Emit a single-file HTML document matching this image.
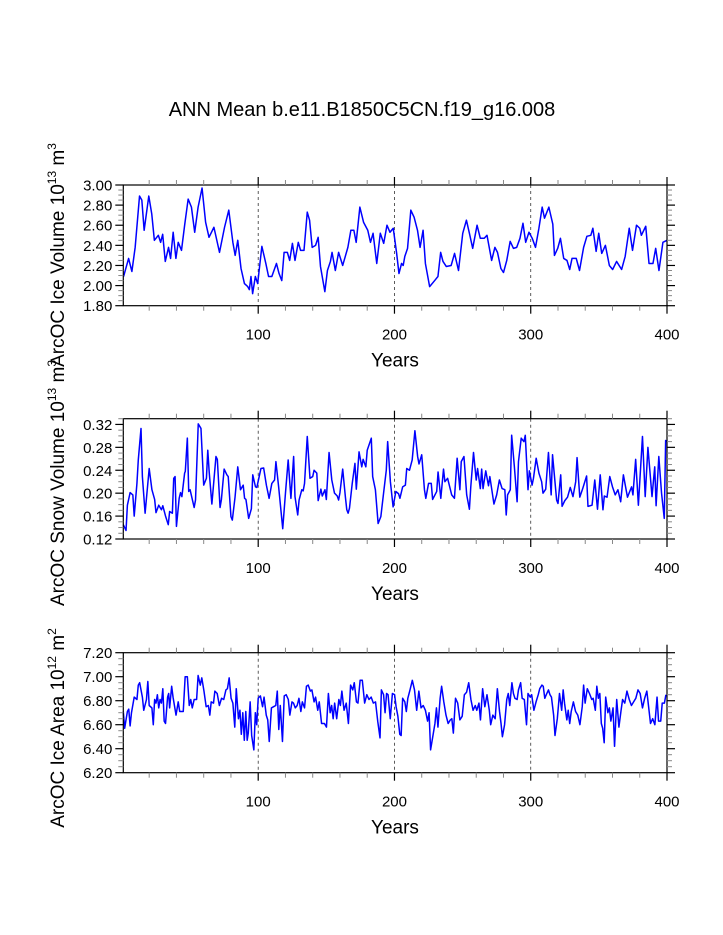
<!DOCTYPE html>
<html><head><meta charset="utf-8"><style>
html,body{margin:0;padding:0;background:#fff;}
svg{display:block;font-family:"Liberation Sans",Arial,sans-serif;}
</style></head><body>
<svg id="chart" width="723" height="935" viewBox="0 0 723 935" xmlns="http://www.w3.org/2000/svg">
<rect x="0" y="0" width="723" height="935" fill="#fff"/>
<text x="362" y="116" font-size="20" text-anchor="middle">ANN Mean b.e11.B1850C5CN.f19_g16.008</text>
</svg>
<script>
// ---------- data ----------
const p1Years=[1.2,4.9,7.3,9.7,12.9,14.6,16.3,19.7,21.9,23.8,26.7,28.4,29.9,31.8,34.2,35.7,37.6,39.6,41.3,43.7,46.1,48.6,51,53.4,55.9,58.8,61.4,63.9,67.5,71.6,75.3,78.4,81.4,83.1,85,87.4,89.9,92.3,93.5,94.7,95.9,97.9,99.6,102.7,105.6,107.6,110,113.4,115.3,117.3,119,121.4,123.1,125.1,127,129.4,131.1,133.6,136,137.7,139.6,142.1,144,145.7,148.9,150.8,153,154.2,156.6,159,162,163.9,165.8,168,170.2,171.9,174.6,177.3,180.4,182.4,184.3,187,189.6,192.1,194.5,196.7,199.1,201.6,203.3,205.2,206.4,207.6,209.6,212,214.4,216.9,218.8,221,222.7,225.8,229.5,231.9,233.9,235.6,238,241.6,244.1,247,250.1,252.8,255,257.4,260.6,263,265.9,267.9,271.3,273.7,275.6,278.1,280,282.4,284.9,287.3,289.7,292.1,294.3,296.3,298.7,301.1,303.5,306,308.4,310.1,313.3,316.2,317.4,319.8,321.8,324.2,326.6,328.6,330.3,333.4,335.8,338.8,341.2,344.1,345.6,348,349.9,352.1,354.8,357.7,360.1,363,366.7,369.3,372.3,374.7,377.6,380,381.2,384.4,386.8,389.7,391.7,394.1,397,400];
const p1Vals=[2.09,2.27,2.14,2.38,2.89,2.85,2.55,2.89,2.71,2.45,2.50,2.43,2.51,2.24,2.38,2.27,2.53,2.27,2.43,2.35,2.61,2.86,2.78,2.53,2.78,2.97,2.63,2.48,2.58,2.33,2.58,2.75,2.43,2.30,2.45,2.17,2.02,1.99,1.96,2.09,1.92,2.09,2.02,2.39,2.22,2.09,2.09,2.22,2.12,2.05,2.33,2.33,2.25,2.42,2.25,2.43,2.35,2.35,2.73,2.65,2.38,2.40,2.48,2.19,1.94,2.15,2.24,2.33,2.15,2.33,2.20,2.29,2.38,2.55,2.55,2.43,2.78,2.63,2.55,2.43,2.52,2.22,2.52,2.42,2.60,2.53,2.57,2.32,2.12,2.22,2.20,2.29,2.37,2.75,2.68,2.55,2.38,2.55,2.22,1.99,2.05,2.09,2.33,2.24,2.19,2.20,2.32,2.15,2.52,2.65,2.52,2.37,2.60,2.47,2.47,2.50,2.25,2.38,2.33,2.17,2.13,2.25,2.44,2.37,2.38,2.47,2.62,2.43,2.53,2.47,2.38,2.57,2.78,2.67,2.78,2.61,2.30,2.37,2.47,2.27,2.25,2.16,2.27,2.27,2.15,2.38,2.49,2.50,2.57,2.34,2.52,2.32,2.40,2.20,2.16,2.24,2.16,2.29,2.57,2.35,2.60,2.57,2.50,2.59,2.22,2.22,2.37,2.15,2.43,2.45];

const p2Years=[1,3,4,6,8,9,11,12,14,15,17,20,22,24,25,27,29,30,32,34,35,37,38,39,40,42,43,44,46,46.5,48,49,50,53,54,56,58,60,62,63,64,66,69,70,72,73,75,77,78,80,81,83,85,87,89,90,91,93,95,96,98,99,102,104,106,108,110,112,113,115,118,120,122,124,126,127,129,130,132,133,134,136,138,140,141,143,144,146,147,149,150,152,154,156,158,159,160,162,164,165,166,167,169,171,172,174,176,177,179,180,183,184,186,188,190,192,194,195,197,199,201,203,204,206,208,209,211,213,215,217,218,220,222,223,225,227,228,231,232,234,236,237,239,242,244,246,248,249,251,253,255,256,258,260,261,263,264,265,267,269,270,273,275,277,279,281,282,283,285,286,288,290,291,293,295,296,298,299,301,302,304,306,308,309,311,313,315,316,319,320,322,323,325,327,329,331,333,334,336,338,341,342,345,347,349,351,353,354,356,358,360,362,364,366,368,371,374,375,377,379,382,384,386,389,391,392,394,396,398,399,400];
const p2Vals=[0.145,0.135,0.179,0.201,0.197,0.160,0.217,0.258,0.313,0.229,0.165,0.243,0.206,0.189,0.166,0.179,0.171,0.178,0.160,0.145,0.168,0.165,0.226,0.229,0.142,0.191,0.201,0.194,0.235,0.238,0.296,0.203,0.206,0.175,0.188,0.321,0.313,0.214,0.226,0.275,0.238,0.181,0.264,0.259,0.175,0.189,0.242,0.232,0.229,0.159,0.153,0.193,0.246,0.206,0.214,0.191,0.189,0.156,0.173,0.232,0.211,0.210,0.243,0.244,0.214,0.191,0.217,0.223,0.255,0.211,0.138,0.200,0.258,0.191,0.264,0.194,0.162,0.188,0.206,0.204,0.217,0.299,0.226,0.229,0.240,0.235,0.187,0.207,0.195,0.206,0.189,0.271,0.223,0.200,0.195,0.188,0.201,0.242,0.193,0.171,0.165,0.174,0.217,0.252,0.207,0.272,0.246,0.259,0.246,0.275,0.296,0.229,0.206,0.147,0.159,0.200,0.240,0.290,0.220,0.176,0.203,0.199,0.191,0.211,0.214,0.243,0.240,0.258,0.309,0.264,0.251,0.267,0.206,0.191,0.217,0.217,0.189,0.203,0.237,0.191,0.242,0.220,0.226,0.197,0.191,0.261,0.206,0.255,0.264,0.197,0.172,0.211,0.271,0.223,0.243,0.208,0.242,0.208,0.239,0.213,0.229,0.181,0.197,0.223,0.208,0.206,0.162,0.197,0.206,0.301,0.246,0.185,0.255,0.296,0.290,0.301,0.206,0.239,0.214,0.226,0.261,0.235,0.220,0.200,0.207,0.271,0.197,0.267,0.188,0.182,0.232,0.177,0.187,0.193,0.210,0.194,0.220,0.262,0.193,0.207,0.230,0.177,0.179,0.223,0.172,0.232,0.171,0.195,0.193,0.229,0.211,0.197,0.206,0.185,0.232,0.193,0.211,0.197,0.259,0.179,0.299,0.194,0.280,0.194,0.246,0.178,0.264,0.200,0.156,0.292,0.290];

const p3Years=[1,2,4,5,6,7,9,11,12,13,15,16,18,19,20,22,23,24,25,26,27,28,29,30,31,32,33.5,34.3,35,36.5,37.5,39.7,41.3,42.4,45,46.4,48,49.4,50.5,51.6,53,54.8,55.9,57.5,58.6,60.2,61.8,63.4,64.5,65.5,67.2,68.2,69.9,71.5,73.1,74.7,76.3,77.4,78.7,80.1,81.4,82.8,83.9,85.5,86.6,87.6,88.7,89.8,90.9,91.9,92.7,94.1,95.2,96.8,97.9,98.9,100,101.6,103.2,104.3,105.9,107,108.1,109.7,111.3,112.9,114,115.1,116.2,117.8,119.1,120.5,122.1,123.2,124.8,125.9,127.2,128.6,129.9,131.3,132.4,134,135.4,136.7,138.3,139.4,141,142.1,143.7,144.8,146.5,148.6,150.1,151.5,152.8,153.9,155,156.1,157.6,159.2,160.3,161.4,163,164.6,166.2,167.8,169.4,170.5,172.1,173.2,174.8,176.4,178.1,179.7,181.3,182.9,184.5,186.1,187.7,189.4,190.4,192,193.1,194.2,195.3,196.9,198.5,200.1,201.2,202.5,203.9,204.9,206,207.6,208.7,209.8,211.4,213.1,214.7,216.3,217.9,219.5,221.1,222.7,224.3,225.4,226.5,228.1,229.7,230.8,231.9,233.5,234.6,236.2,237.8,239.4,241,242.1,243.2,244.8,246.4,248,249.7,251.3,252.9,254.5,256.1,257.7,259.3,260.4,262,263.1,264.7,266.3,267.9,269.6,270.6,272.2,273.9,275.5,277.1,278.2,279.2,280.8,282.4,283.5,284.6,286.2,287.3,288.4,290,291,292.6,293.7,295.3,296.9,298,299.6,300.7,302.3,303.9,305.5,306.6,308.2,309.2,310.3,311.4,313,314.1,315.2,316.8,317.8,319.5,321.1,322.7,323.8,324.8,326.5,327.5,328.6,329.7,331.3,332.9,334.5,336.1,337.8,338.8,339.9,341.5,343.1,344.8,345.8,347.4,348.5,349.6,350.7,351.8,352.8,353.9,355,356.6,357.7,358.8,360.4,361.5,363.1,364.7,366.3,367.4,369,370.6,372.3,373.9,375.5,377.1,378.7,380.3,382,383.6,385.2,386.8,387.9,389.5,391.1,392.7,393.8,395.4,396.5,398.1,399.2];
const p3Vals=[6.71,6.57,6.71,6.73,6.59,6.70,6.83,6.81,6.93,6.95,6.83,6.72,6.81,6.96,6.76,6.74,6.60,6.81,6.78,6.85,6.74,6.81,6.78,6.90,6.63,6.61,6.83,6.86,6.74,6.92,6.83,6.68,6.79,6.71,6.71,7.00,7.00,6.76,6.81,6.74,6.81,6.81,7.01,6.93,6.99,6.88,6.75,6.76,6.68,6.79,6.78,6.88,6.86,6.76,6.82,6.81,6.89,6.90,6.99,6.82,6.78,6.58,6.90,6.65,6.72,6.52,6.70,6.47,6.71,6.47,6.53,6.79,6.51,6.39,6.70,6.60,6.82,6.84,6.75,6.83,6.68,6.64,6.46,6.74,6.75,6.76,6.88,6.56,6.76,6.46,6.84,6.85,6.81,6.68,6.79,6.78,6.74,6.76,6.82,6.71,6.79,6.74,6.92,6.93,6.88,6.89,6.79,6.83,6.72,6.79,6.61,6.61,6.58,6.86,6.70,6.76,6.65,6.78,6.65,6.81,6.76,6.88,6.72,6.78,6.61,6.93,6.89,6.95,6.79,6.78,6.97,6.97,6.78,6.85,6.81,6.83,6.78,6.79,6.63,6.49,6.89,6.85,6.70,6.86,6.85,6.65,6.86,6.85,6.75,6.67,6.52,6.51,6.82,6.79,6.71,6.82,6.89,6.97,6.89,6.72,6.88,6.74,6.76,6.72,6.63,6.70,6.39,6.50,6.61,6.74,6.58,6.82,6.92,6.79,6.68,6.61,6.64,6.65,6.53,6.82,6.78,6.64,6.67,6.85,6.87,6.95,6.81,6.72,6.76,6.72,6.78,6.64,6.90,6.75,6.85,6.72,6.60,6.68,6.65,6.90,6.71,6.61,6.50,6.60,6.81,6.86,6.76,6.95,6.86,6.82,6.81,6.89,6.95,6.82,6.81,6.60,6.86,6.83,6.85,6.72,6.79,6.85,6.90,6.93,6.92,6.82,6.85,6.89,6.85,6.83,6.68,6.51,6.65,6.86,6.72,6.89,6.78,6.64,6.72,6.61,6.71,6.79,6.71,6.68,6.60,6.75,6.93,6.78,6.90,6.86,6.81,6.82,6.72,6.92,6.82,6.86,6.61,6.57,6.45,6.83,6.70,6.74,6.63,6.74,6.42,6.81,6.58,6.72,6.81,6.78,6.88,6.81,6.76,6.79,6.82,6.89,6.86,6.74,6.82,6.88,6.72,6.61,6.65,6.60,6.83,6.63,6.63,6.78,6.78,6.85];

const xTickLabels=["100","200","300","400"];
const p1TickLabels=["3.00","2.80","2.60","2.40","2.20","2.00","1.80"];
const p2TickLabels=["0.32","0.28","0.24","0.20","0.16","0.12"];
const p3TickLabels=["7.20","7.00","6.80","6.60","6.40","6.20"];

// ---------- drawing ----------
const NS="http://www.w3.org/2000/svg";
const svg=document.getElementById('chart');
function mk(tag,attrs,parent){const e=document.createElementNS(NS,tag);for(const k in attrs)e.setAttribute(k,attrs[k]);(parent||svg).appendChild(e);return e;}

const X0=123.3,X1=667,XMIN=1,XMAX=400;
function xs(y){return X0+(y-XMIN)/(XMAX-XMIN)*(X1-X0);}

function panel(cfg){
  const g=mk('g',{});
  
  
  const top=cfg.top,bot=cfg.bot;
  const ys=v=>bot-(v-cfg.ymin)/(cfg.ymax-cfg.ymin)*(bot-top);
  [100,200,300].forEach(yr=>{
    const l=mk('line',{x1:xs(yr),x2:xs(yr),y1:top,y2:bot,stroke:'#333','stroke-width':0.8,'stroke-dasharray':'3,3'},g);
    
    
  });
  let d='';
  cfg.years.forEach((yr,i)=>{d+=(i?'L':'M')+xs(yr).toFixed(2)+','+ys(cfg.vals[i]).toFixed(2);});
  const p=mk('path',{d:d,fill:'none',stroke:'#0000ff','stroke-width':1.5,'stroke-linejoin':'round'},g);
  
  
  const b=mk('rect',{x:X0,y:top,width:X1-X0,height:bot-top,fill:'none',stroke:'#000','stroke-width':1.2},g);
  
  
  for(let yr=20;yr<=400;yr+=20){
    const maj=yr%100===0, L=maj?8:5;
    const x=xs(yr);
    mk('line',{x1:x,x2:x,y1:top,y2:top-L,stroke:maj?'#000':'#888','stroke-width':maj?1.2:1},g);
    mk('line',{x1:x,x2:x,y1:bot,y2:bot+L,stroke:maj?'#000':'#888','stroke-width':maj?1.2:1},g);
  }
  xTickLabels.forEach(s=>{
    const t=mk('text',{x:xs(+s),y:bot+34,'font-size':15,'text-anchor':'middle'},g);
    t.textContent=s;
    
    
  });
  for(let v=cfg.ymin;v<=cfg.ymax+1e-9;v+=cfg.minor){
    const k=Math.round((v-cfg.ymin)/cfg.minor);
    const maj=k%cfg.per===0, L=maj?8:5, y=ys(v);
    mk('line',{x1:X0,x2:X0-L,y1:y,y2:y,stroke:maj?'#000':'#888','stroke-width':maj?1.2:1},g);
    mk('line',{x1:X1,x2:X1+L,y1:y,y2:y,stroke:maj?'#000':'#888','stroke-width':maj?1.2:1},g);
  }
  cfg.labels.forEach(s=>{
    const t=mk('text',{x:X0-11,y:ys(+s)+5.5,'font-size':15,'text-anchor':'end'},g);
    t.textContent=s;
    
    
  });
  const xt=mk('text',{x:395,y:bot+61,'font-size':19,'text-anchor':'middle'},g);
  xt.textContent='Years';
  
  
  const yt=mk('text',{x:0,y:0,'font-size':19,'text-anchor':'middle',transform:'translate(64,'+cfg.tcy+') rotate(-90)'},g);
  
  
  cfg.title.forEach(part=>{
    const ts=mk('tspan',{},yt);
    if(part[1]){ts.setAttribute('font-size','12');ts.setAttribute('dy','-8');}
    else if(part[2]){ts.setAttribute('dy','8');}
    ts.textContent=part[0];
  });
}

panel({name:'ice-volume-panel',top:185,bot:305.7,ymin:1.8,ymax:3.0,minor:0.05,per:4,years:p1Years,vals:p1Vals,labels:p1TickLabels,tcy:255,
  title:[['ArcOC Ice Volume 10'],['13',1],[' m',0,1],['3',1]]});
panel({name:'snow-volume-panel',top:418.7,bot:539,ymin:0.12,ymax:0.33,minor:0.01,per:4,years:p2Years,vals:p2Vals,labels:p2TickLabels,tcy:483,
  title:[['ArcOC Snow Volume 10'],['13',1],[' m',0,1],['3',1]]});
panel({name:'ice-area-panel',top:652.7,bot:772.7,ymin:6.2,ymax:7.2,minor:0.05,per:4,years:p3Years,vals:p3Vals,labels:p3TickLabels,tcy:728,
  title:[['ArcOC Ice Area 10'],['12',1],[' m',0,1],['2',1]]});
</script>
</body></html>
